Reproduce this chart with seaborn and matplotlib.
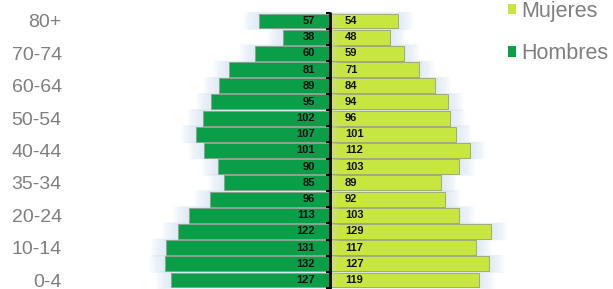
import numpy as np
import pandas as pd
import matplotlib
matplotlib.use("Agg")
import matplotlib.pyplot as plt
from matplotlib.patches import Patch
import seaborn as sns

# ---- data (top to bottom) ----
edades = ["80+", "75-79", "70-74", "65-69", "60-64", "55-59", "50-54", "45-49",
          "40-44", "35-39", "30-34", "25-29", "20-24", "15-19", "10-14", "5-9", "0-4"]
hombres = [57, 38, 60, 81, 89, 95, 102, 107, 101, 90, 85, 96, 113, 122, 131, 132, 127]
mujeres = [54, 48, 59, 71, 84, 94, 96, 101, 112, 103, 89, 92, 103, 129, 117, 127, 119]
tick_labels = ["80+", "70-74", "60-64", "50-54", "40-44", "35-34", "20-24", "10-14", "0-4"]

sns.set_theme(style="white")
plt.rcParams['font.family'] = ['Liberation Sans', 'DejaVu Sans']

C_H = "#0a9e48"
C_M = "#c8e640"
GLOW = "#cfdff0"

df = pd.DataFrame({"edad": edades,
                   "Hombres": [-v for v in hombres],
                   "Mujeres": mujeres})

fig = plt.figure(figsize=(6.13, 2.89), dpi=100)
ax = fig.add_axes([70 / 613, 0, (515 - 70) / 613, 1])

# soft glow behind bars
ypos = np.arange(len(edades))
for k in range(1, 10):
    ax.barh(ypos, [-(v + k * 1.4) for v in hombres], height=0.95 + k * 0.02,
            color=GLOW, alpha=0.09, lw=0, zorder=0)
    ax.barh(ypos, [v + k * 1.4 for v in mujeres], height=0.95 + k * 0.02,
            color=GLOW, alpha=0.09, lw=0, zorder=0)

sns.barplot(data=df, x="Hombres", y="edad", order=edades, orient="h",
            color=C_H, saturation=1, width=0.92, edgecolor="#8aa090",
            linewidth=0.6, ax=ax, zorder=2)
sns.barplot(data=df, x="Mujeres", y="edad", order=edades, orient="h",
            color=C_M, saturation=1, width=0.92, edgecolor="#9aa070",
            linewidth=0.6, ax=ax, zorder=2)

# light gradient near the centre on the female bars
grad = np.linspace(0, 1, 64).reshape(1, -1)
cmap = matplotlib.colors.LinearSegmentedColormap.from_list(
    "g", [(0.80, 0.86, 0.72, 0.75), (0.80, 0.90, 0.30, 0.0)])
for i in range(len(edades)):
    ax.imshow(grad, cmap=cmap, aspect="auto", extent=(0.5, 9, i + 0.44, i - 0.44),
              zorder=3, interpolation="bilinear")

# value labels
for i, (h, m) in enumerate(zip(hombres, mujeres)):
    ax.text(-12, i, str(h), ha="right", va="center", fontsize=8,
            fontweight="bold", color="#111111", zorder=5)
    ax.text(12, i, str(m), ha="left", va="center", fontsize=8,
            fontweight="bold", color="#111111", zorder=5)

# central axis with small ticks
n = len(edades)
ax.plot([0, 0], [-0.5, n - 0.5], color="black", lw=2, zorder=4)
ax.hlines(np.arange(n + 1) - 0.5, -3.5, 0, color="black", lw=1.5, zorder=4)

ax.set_xlim(-(330 - 70) / 1.25, (515 - 330) / 1.25)
ax.set_ylim(16 + (289 - 280) / 16.19, -21 / 16.19)

ax.set_yticks(np.arange(0, n, 2))
ax.set_yticklabels(tick_labels, fontsize=14, color="#7f7f7f")
ax.tick_params(axis="y", length=0, pad=6)
ax.set_xticks([])
ax.set_xlabel("")
ax.set_ylabel("")
for s in ax.spines.values():
    s.set_visible(False)
ax.patch.set_alpha(0)

handles = [Patch(facecolor=C_M, edgecolor="none", label="Mujeres"),
           Patch(facecolor=C_H, edgecolor="none", label="Hombres")]
fig.legend(handles=handles, loc="upper left", bbox_to_anchor=(497 / 613, 1.035),
           frameon=False, fontsize=15.5, labelcolor="#7f7f7f",
           handlelength=0.4, handleheight=0.4, handletextpad=0.22,
           labelspacing=1.0, borderpad=0)

fig.savefig("out.png", dpi=100)
